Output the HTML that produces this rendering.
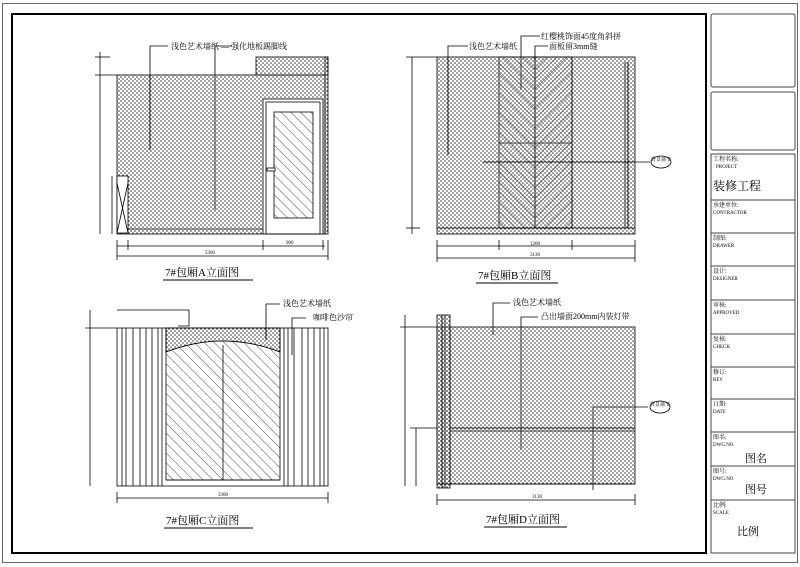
<!DOCTYPE html>
<html><head><meta charset="utf-8"><style>
html,body{margin:0;padding:0;background:#fff;}
svg{display:block;font-family:"Liberation Serif","Noto Serif CJK SC","Noto Sans CJK SC",serif;}
</style></head><body>
<svg width="800" height="567" viewBox="0 0 800 567" xmlns="http://www.w3.org/2000/svg">
<defs>
<pattern id="dots" width="4" height="4" patternUnits="userSpaceOnUse">
<circle cx="1" cy="1" r="0.75" fill="#222"/><circle cx="3" cy="3" r="0.75" fill="#222"/>
</pattern>
<pattern id="diag" width="7" height="7" patternUnits="userSpaceOnUse" patternTransform="rotate(-45)">
<line x1="0" y1="0" x2="0" y2="7" stroke="#222" stroke-width="0.8"/>
</pattern>
<pattern id="diag2" width="7" height="7" patternUnits="userSpaceOnUse" patternTransform="rotate(45)">
<line x1="0" y1="0" x2="0" y2="7" stroke="#222" stroke-width="0.8"/>
</pattern>
</defs>
<g fill="none" stroke="#000">
<rect x="2.5" y="3.5" width="795" height="559" stroke="#666"/>
<rect x="12" y="14" width="694" height="539" stroke-width="2"/>
<rect x="711" y="14" width="84" height="73" rx="2" stroke="#444"/>
<rect x="711" y="92" width="84" height="58" rx="2" stroke="#444"/>
<rect x="711" y="154" width="84" height="399" stroke="#444"/>
<g stroke="#444"><line x1="711" y1="200" x2="795" y2="200"/><line x1="711" y1="233" x2="795" y2="233"/><line x1="711" y1="266" x2="795" y2="266"/><line x1="711" y1="300" x2="795" y2="300"/><line x1="711" y1="334" x2="795" y2="334"/><line x1="711" y1="367" x2="795" y2="367"/><line x1="711" y1="399" x2="795" y2="399"/><line x1="711" y1="432" x2="795" y2="432"/><line x1="711" y1="466" x2="795" y2="466"/><line x1="711" y1="500" x2="795" y2="500"/></g>
</g>
<g font-size="6" fill="#000">
<text x="713" y="161">工程名称:</text><text x="716" y="168" font-size="5">PROJECT</text>
<text x="713" y="190" font-size="12">装修工程</text>
<text x="713" y="207">承建单位:</text><text x="713" y="214" font-size="5">CONTRACTOR</text>
<text x="713" y="240">制图:</text><text x="713" y="247" font-size="5">DRAWER</text>
<text x="713" y="273">设计:</text><text x="713" y="280" font-size="5">DESIGNER</text>
<text x="713" y="307">审核:</text><text x="713" y="314" font-size="5">APPROVED</text>
<text x="713" y="341">复核:</text><text x="713" y="348" font-size="5">CHECK</text>
<text x="713" y="374">修订:</text><text x="713" y="381" font-size="5">REV</text>
<text x="713" y="406">日期:</text><text x="713" y="413" font-size="5">DATE</text>
<text x="713" y="439">图名:</text><text x="713" y="446" font-size="5">DWG.NO</text>
<text x="745" y="462" font-size="11">图名</text>
<text x="713" y="473">图号:</text><text x="713" y="480" font-size="5">DWG.NO</text>
<text x="745" y="493" font-size="11">图号</text>
<text x="713" y="507">比例:</text><text x="713" y="514" font-size="5">SCALE</text>
<text x="737" y="535" font-size="11">比例</text>
</g>

<!-- Panel A -->
<g stroke="#000" stroke-width="0.8">
<rect x="117" y="75" width="208" height="159" fill="url(#dots)"/>
<rect x="256" y="57" width="72" height="18" fill="url(#dots)"/>
<rect x="325" y="57" width="3" height="177" fill="url(#dots)"/>
<rect x="263" y="99" width="60" height="135" fill="#fff"/>
<rect x="266" y="102" width="54" height="132" fill="none"/>
<rect x="274" y="112" width="39" height="106" fill="url(#diag)"/>
<rect x="267" y="168" width="8" height="3" fill="#fff"/>
<rect x="117" y="176" width="11" height="57" fill="#fff"/>
<line x1="117" y1="183" x2="128" y2="233"/><line x1="128" y1="183" x2="117" y2="233"/>
<line x1="128" y1="229" x2="263" y2="229"/>
<line x1="100" y1="52" x2="100" y2="234"/><line x1="95" y1="75" x2="117" y2="75"/><line x1="95" y1="57" x2="110" y2="57"/>
<line x1="112" y1="176" x2="112" y2="234"/>
<line x1="117" y1="246" x2="325" y2="246"/><line x1="117" y1="256" x2="328" y2="256"/>
<line x1="117" y1="240" x2="117" y2="260"/><line x1="128" y1="240" x2="128" y2="250"/><line x1="263" y1="240" x2="263" y2="250"/><line x1="323" y1="240" x2="323" y2="250"/><line x1="328" y1="240" x2="328" y2="260"/>
<polyline points="150,150 150,46 168,46" fill="none"/>
<polyline points="215,210 215,46 232,46" fill="none"/>
</g>
<g font-size="8" fill="#000">
<text x="171" y="49">浅色艺术墙纸 — 强化地板踢脚线</text>
<text x="165" y="276" font-size="11">7#包厢A立面图</text>
<text x="205" y="254" font-size="5">5360</text><text x="286" y="244" font-size="5">900</text>
</g>
<line x1="163" y1="280" x2="253" y2="280" stroke="#000"/>

<!-- Panel B -->
<g stroke="#000" stroke-width="0.8">
<rect x="437" y="57" width="198" height="177" fill="url(#dots)"/>
<rect x="499" y="57" width="36" height="171" fill="url(#diag)"/>
<rect x="535" y="57" width="37" height="171" fill="url(#diag2)"/>
<line x1="499" y1="143" x2="572" y2="143"/>
<line x1="437" y1="228" x2="635" y2="228"/>
<line x1="625" y1="62" x2="625" y2="228"/><line x1="628" y1="62" x2="628" y2="228"/>
<line x1="483" y1="162" x2="650" y2="162"/>
<line x1="412" y1="57" x2="412" y2="234"/><line x1="406" y1="57" x2="437" y2="57"/><line x1="406" y1="228" x2="420" y2="228"/>
<line x1="437" y1="246" x2="635" y2="246"/><line x1="437" y1="258" x2="635" y2="258"/>
<line x1="437" y1="240" x2="437" y2="262"/><line x1="499" y1="240" x2="499" y2="250"/><line x1="572" y1="240" x2="572" y2="250"/><line x1="635" y1="240" x2="635" y2="262"/>
<polyline points="448,155 448,46 468,46" fill="none"/>
<polyline points="521,90 521,36 540,36" fill="none"/>
<polyline points="535,80 535,46 548,46" fill="none"/>
<ellipse cx="661" cy="162" rx="10" ry="6" fill="#fff"/>
</g>
<g font-size="8" fill="#000">
<text x="469" y="49">浅色艺术墙纸</text>
<text x="541" y="39">红樱桃饰面45度角斜拼</text>
<text x="549" y="49">面板留3mm缝</text>
<text x="651" y="161" font-size="5">背景墙节</text>
<text x="478" y="279" font-size="11">7#包厢B立面图</text>
<text x="530" y="256" font-size="5">3130</text><text x="530" y="245" font-size="5">1200</text>
</g>
<line x1="476" y1="283" x2="558" y2="283" stroke="#000"/>

<!-- Panel C -->
<g stroke="#000" stroke-width="0.8">
<rect x="117" y="328" width="211" height="158" fill="#fff"/>
<rect x="166" y="328" width="114" height="152" fill="url(#diag)"/>
<path d="M166,328 H280 V352 Q223,330 166,352 Z" fill="#fff"/>
<path d="M166,328 H280 V352 Q223,330 166,352 Z" fill="url(#dots)"/>
<line x1="223" y1="345" x2="223" y2="480"/>
<line x1="166" y1="480" x2="280" y2="480"/>
<g fill="none">
<line x1="122" y1="328" x2="122" y2="486"/><line x1="126" y1="328" x2="126" y2="486"/><line x1="133" y1="328" x2="133" y2="486"/><line x1="140" y1="328" x2="140" y2="486"/><line x1="146" y1="328" x2="146" y2="486"/><line x1="152" y1="328" x2="152" y2="486"/><line x1="158" y1="328" x2="158" y2="486"/><line x1="162" y1="328" x2="162" y2="486"/>
<line x1="284" y1="328" x2="284" y2="486"/><line x1="288" y1="328" x2="288" y2="486"/><line x1="294" y1="328" x2="294" y2="486"/><line x1="302" y1="328" x2="302" y2="486"/><line x1="308" y1="328" x2="308" y2="486"/><line x1="314" y1="328" x2="314" y2="486"/><line x1="320" y1="328" x2="320" y2="486"/><line x1="324" y1="328" x2="324" y2="486"/>
</g>
<polyline points="117,310 189,310 189,326 178,326" fill="none"/>
<line x1="90" y1="310" x2="90" y2="486"/><line x1="85" y1="328" x2="117" y2="328"/>
<line x1="117" y1="498" x2="328" y2="498"/><line x1="117" y1="492" x2="117" y2="503"/><line x1="328" y1="492" x2="328" y2="503"/>
<polyline points="266,340 266,304 280,304" fill="none"/>
<polyline points="292,355 292,318 306,318" fill="none"/>
</g>
<g font-size="8" fill="#000">
<text x="283" y="306">浅色艺术墙纸</text>
<text x="313" y="320">咖啡色沙帘</text>
<text x="166" y="524" font-size="11">7#包厢C立面图</text>
<text x="218" y="496" font-size="5">3300</text>
</g>
<line x1="164" y1="528" x2="253" y2="528" stroke="#000"/>

<!-- Panel D -->
<g stroke="#000" stroke-width="0.8">
<rect x="437" y="327" width="198" height="157" fill="url(#dots)"/>
<rect x="437" y="315" width="13" height="173" fill="url(#dots)"/>
<line x1="442" y1="315" x2="442" y2="488"/><line x1="445" y1="315" x2="445" y2="488"/>
<line x1="450" y1="428" x2="635" y2="428"/><line x1="450" y1="431" x2="635" y2="431"/>
<line x1="450" y1="484" x2="635" y2="484"/>
<line x1="405" y1="315" x2="405" y2="486"/><line x1="400" y1="327" x2="437" y2="327"/>
<line x1="416" y1="428" x2="416" y2="486"/><line x1="410" y1="428" x2="437" y2="428"/>
<line x1="437" y1="500" x2="635" y2="500"/><line x1="437" y1="494" x2="437" y2="505"/><line x1="635" y1="494" x2="635" y2="505"/>
<polyline points="493,335 493,303 510,303" fill="none"/>
<polyline points="521,450 521,317 538,317" fill="none"/>
<polyline points="593,490 593,407 648,407" fill="none"/>
<ellipse cx="660" cy="407" rx="10" ry="6" fill="#fff"/>
</g>
<g font-size="8" fill="#000">
<text x="513" y="305">浅色艺术墙纸</text>
<text x="541" y="319">凸出墙面200mm内装灯带</text>
<text x="650" y="406" font-size="5">背景墙节</text>
<text x="486" y="523" font-size="11">7#包厢D立面图</text>
<text x="532" y="498" font-size="5">3130</text>
</g>
<line x1="484" y1="527" x2="567" y2="527" stroke="#000"/>
</svg>
</body></html>
